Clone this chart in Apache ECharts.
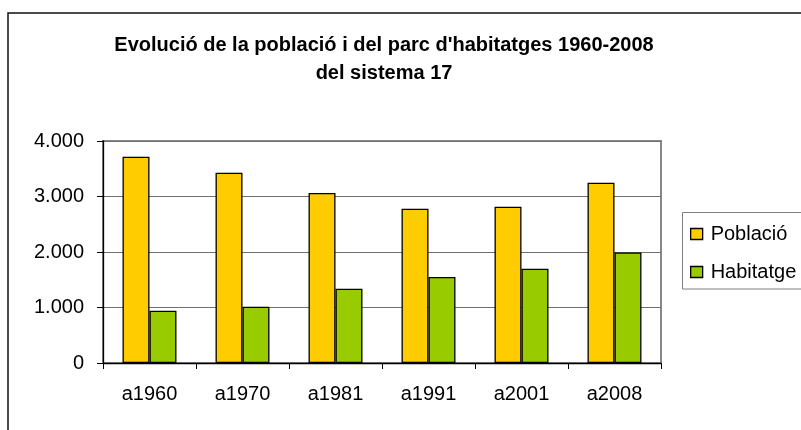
<!DOCTYPE html>
<html>
<head>
<meta charset="utf-8">
<script src="https://cdn.jsdelivr.net/npm/echarts@6/dist/echarts.min.js"></script>
<style>
  html, body { margin: 0; padding: 0; background: #fff; }
  #chart { width: 801px; height: 430px; }
</style>
</head>
<body>
<div id="chart"></div>
<script>
// dades llegides del gràfic
var anys = ['a1960', 'a1970', 'a1981', 'a1991', 'a2001', 'a2008']
var poblacio = [3717, 3429, 3063, 2780, 2816, 3249]
var habitatges = [942, 1014, 1339, 1550, 1699, 1990]
var yTicks = [0, 1000, 2000, 3000, 4000]

var font = '"Liberation Sans", Arial, sans-serif'

function milers(v) {
  return String(v).replace(/\B(?=(\d{3})+(?!\d))/g, '.')
}

var chart = echarts.init(document.getElementById('chart'))
chart.setOption({
  backgroundColor: '#fff',
  animation: false,
  title: {
    text: "Evolució de la població i del parc d'habitatges 1960-2008\ndel sistema 17",
    left: 384,
    top: 31,
    padding: 0,
    textAlign: 'center',
    textStyle: {
      color: '#000',
      fontFamily: font,
      fontSize: 20,
      fontWeight: 'bold',
      lineHeight: 28
    }
  },
  legend: {
    orient: 'vertical',
    left: 690,
    top: 224,
    padding: 0,
    itemWidth: 12,
    itemHeight: 11,
    itemGap: 18,
    icon: 'rect',
    itemStyle: {
      borderColor: '#000',
      borderWidth: 1.3
    },
    textStyle: {
      color: '#000',
      fontFamily: font,
      fontSize: 20,
      lineHeight: 20,
      padding: [0, 0, 0, 3]
    },
    data: ['Població', 'Habitatge']
  },
  graphic: [
    {
      type: 'rect',
      z: -1,
      shape: { x: 8, y: 13, width: 900, height: 500 },
      style: { fill: 'none', stroke: '#111', lineWidth: 1.5 }
    },
    {
      type: 'rect',
      z: -1,
      shape: { x: 682.5, y: 212.5, width: 200, height: 76.5 },
      style: { fill: 'none', stroke: '#808080', lineWidth: 1 }
    }
  ],
  grid: {
    left: 103,
    right: 140,
    top: 141,
    bottom: 67,
    show: true,
    borderColor: '#888',
    borderWidth: 2,
    containLabel: false
  },
  xAxis: {
    type: 'category',
    data: anys,
    axisLine: { lineStyle: { color: '#000', width: 1.3 } },
    axisTick: { show: true, length: 6, lineStyle: { color: '#000' } },
    axisLabel: {
      color: '#000',
      fontFamily: font,
      fontSize: 20,
      margin: 21
    }
  },
  yAxis: {
    type: 'value',
    min: yTicks[0],
    max: yTicks[yTicks.length - 1],
    interval: 1000,
    axisLine: { show: true, lineStyle: { color: '#000', width: 1.3 } },
    axisTick: { show: true, length: 6, lineStyle: { color: '#000' } },
    splitLine: { lineStyle: { color: '#707070', width: 1 } },
    axisLabel: {
      color: '#000',
      fontFamily: font,
      fontSize: 20,
      margin: 19,
      formatter: function (v) { return milers(v) }
    }
  },
  series: [
    {
      name: 'Població',
      type: 'bar',
      data: poblacio,
      barGap: '0%',
      barCategoryGap: '42%',
      itemStyle: { color: '#FFCC00', borderColor: '#000', borderWidth: 1.3 }
    },
    {
      name: 'Habitatge',
      type: 'bar',
      data: habitatges,
      itemStyle: { color: '#99CC00', borderColor: '#000', borderWidth: 1.3 }
    }
  ]
})
</script>
</body>
</html>
